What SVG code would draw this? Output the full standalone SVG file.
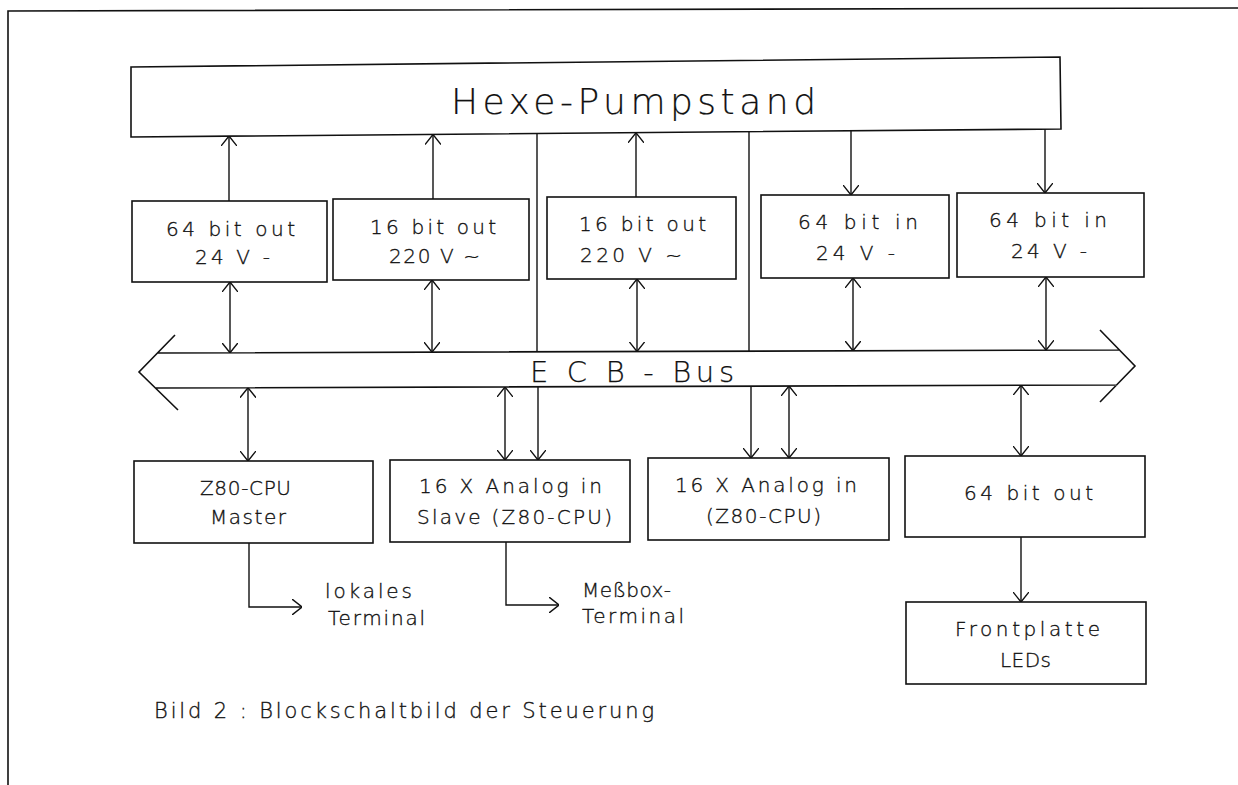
<svg xmlns="http://www.w3.org/2000/svg" width="1238" height="785" viewBox="0 0 1238 785">
<style>
.bx{fill:none;stroke:#111;stroke-width:1.6}
.ln{fill:none;stroke:#111;stroke-width:1.4}
.t{font-family:"DejaVu Sans","Liberation Sans",Arial,sans-serif;font-weight:200;font-size:20px;fill:#111;stroke:#111;stroke-width:0.35}
.big{font-size:36px;stroke-width:0.2}
.bus{font-size:29px;stroke-width:0.25}
.cap{font-size:21px}
</style>
<defs>
<marker id="ah" viewBox="0 0 10 16" refX="10" refY="8" markerWidth="10" markerHeight="16" markerUnits="userSpaceOnUse" orient="auto-start-reverse">
<path d="M0,0 L10,8 L0,16" fill="none" stroke="#111" stroke-width="1.4"/>
</marker>
</defs>
<rect width="1238" height="785" fill="#fff"/>
<g id="frame"><path class="bx" d="M8,785 V11 L1238,8"/></g>

<g id="hexe">
<path class="bx" d="M131,67 L1060,57 L1061,129 L131,137 Z"/>
<text class="t big" x="451" y="114" textLength="365" lengthAdjust="spacing">Hexe-Pumpstand</text>
</g>

<g id="m1"><rect class="bx" x="132" y="201" width="195" height="81"/>
<text class="t" x="166" y="236" textLength="129" lengthAdjust="spacing">64 bit out</text>
<text class="t" x="195" y="264" textLength="75" lengthAdjust="spacing">24 V -</text></g>
<g id="m2"><rect class="bx" x="333" y="199" width="196" height="81"/>
<text class="t" x="370" y="234" textLength="126" lengthAdjust="spacing">16 bit out</text>
<text class="t" x="389" y="263" textLength="91" lengthAdjust="spacing">220 V ~</text></g>
<g id="m3"><rect class="bx" x="547" y="197" width="189" height="82"/>
<text class="t" x="579" y="231" textLength="127" lengthAdjust="spacing">16 bit out</text>
<text class="t" x="580" y="262" textLength="102" lengthAdjust="spacing">220 V ~</text></g>
<g id="m4"><rect class="bx" x="761" y="195" width="188" height="83"/>
<text class="t" x="798" y="229" textLength="120" lengthAdjust="spacing">64 bit in</text>
<text class="t" x="816" y="260" textLength="79" lengthAdjust="spacing">24 V -</text></g>
<g id="m5"><rect class="bx" x="957" y="193" width="187" height="84"/>
<text class="t" x="989" y="227" textLength="118" lengthAdjust="spacing">64 bit in</text>
<text class="t" x="1011" y="258" textLength="76" lengthAdjust="spacing">24 V -</text></g>

<g id="ecbbus">
<path class="bx" d="M175,335 L139,372 L178,410 M157,353 L1119,350 M155,388 L1117,385 M1100,330 L1135,366 L1100,402"/>
<text class="t bus" x="530" y="382" textLength="204" lengthAdjust="spacing">E C B - Bus</text>
</g>

<g id="master"><rect class="bx" x="134" y="461" width="239" height="82"/>
<text class="t" x="200" y="495" textLength="91" lengthAdjust="spacing">Z80-CPU</text>
<text class="t" x="210" y="524" textLength="76" lengthAdjust="spacing">Master</text></g>
<g id="slave"><rect class="bx" x="390" y="460" width="240" height="82"/>
<text class="t" x="419" y="493" textLength="183" lengthAdjust="spacing">16 X Analog in</text>
<text class="t" x="417" y="524" textLength="195" lengthAdjust="spacing">Slave (Z80-CPU)</text></g>
<g id="analog"><rect class="bx" x="648" y="458" width="241" height="82"/>
<text class="t" x="675" y="492" textLength="182" lengthAdjust="spacing">16 X Analog in</text>
<text class="t" x="706" y="523" textLength="115" lengthAdjust="spacing">(Z80-CPU)</text></g>
<g id="out64"><rect class="bx" x="905" y="456" width="240" height="81"/>
<text class="t" x="964" y="500" textLength="129" lengthAdjust="spacing">64 bit out</text></g>
<g id="front"><rect class="bx" x="906" y="602" width="240" height="82"/>
<text class="t" x="955" y="636" textLength="145" lengthAdjust="spacing">Frontplatte</text>
<text class="t" x="1000" y="667" textLength="51" lengthAdjust="spacing">LEDs</text></g>

<g id="labels">
<text class="t" x="325" y="598" textLength="87" lengthAdjust="spacing">lokales</text>
<text class="t" x="328" y="625" textLength="97" lengthAdjust="spacing">Terminal</text>
<text class="t" x="582" y="597" textLength="89" lengthAdjust="spacing">Meßbox-</text>
<text class="t" x="582" y="623" textLength="102" lengthAdjust="spacing">Terminal</text>
<text class="t cap" x="154" y="718" textLength="500" lengthAdjust="spacing">Bild 2 : Blockschaltbild der Steuerung</text>
</g>

<g id="connectors">
<path class="ln" marker-end="url(#ah)" d="M229,201 V136"/>
<path class="ln" marker-end="url(#ah)" d="M433,199 V134.5"/>
<path class="ln" marker-end="url(#ah)" d="M636,197 V132.8"/>
<path class="ln" marker-end="url(#ah)" d="M851,131 V195"/>
<path class="ln" marker-end="url(#ah)" d="M1045,129.3 V193"/>
<path class="ln" d="M537,133.3 V351.8"/>
<path class="ln" d="M749,131.8 V351.2"/>
<path class="ln" marker-start="url(#ah)" marker-end="url(#ah)" d="M230,282 V352.8"/>
<path class="ln" marker-start="url(#ah)" marker-end="url(#ah)" d="M432,280 V352.1"/>
<path class="ln" marker-start="url(#ah)" marker-end="url(#ah)" d="M637,279 V351.5"/>
<path class="ln" marker-start="url(#ah)" marker-end="url(#ah)" d="M853,278 V350.8"/>
<path class="ln" marker-start="url(#ah)" marker-end="url(#ah)" d="M1046,277 V350.2"/>
<path class="ln" marker-start="url(#ah)" marker-end="url(#ah)" d="M248,387.7 V461"/>
<path class="ln" marker-start="url(#ah)" marker-end="url(#ah)" d="M505,387 V460"/>
<path class="ln" marker-end="url(#ah)" d="M538,386.8 V460"/>
<path class="ln" marker-end="url(#ah)" d="M751,386.1 V458"/>
<path class="ln" marker-start="url(#ah)" marker-end="url(#ah)" d="M789,386 V458"/>
<path class="ln" marker-start="url(#ah)" marker-end="url(#ah)" d="M1021,385.3 V456"/>
<path class="ln" marker-end="url(#ah)" d="M1021,537 V602"/>
<path class="ln" marker-end="url(#ah)" d="M249,543 V607 H302"/>
<path class="ln" marker-end="url(#ah)" d="M506,542 V605 H559"/>
</g>
</svg>
